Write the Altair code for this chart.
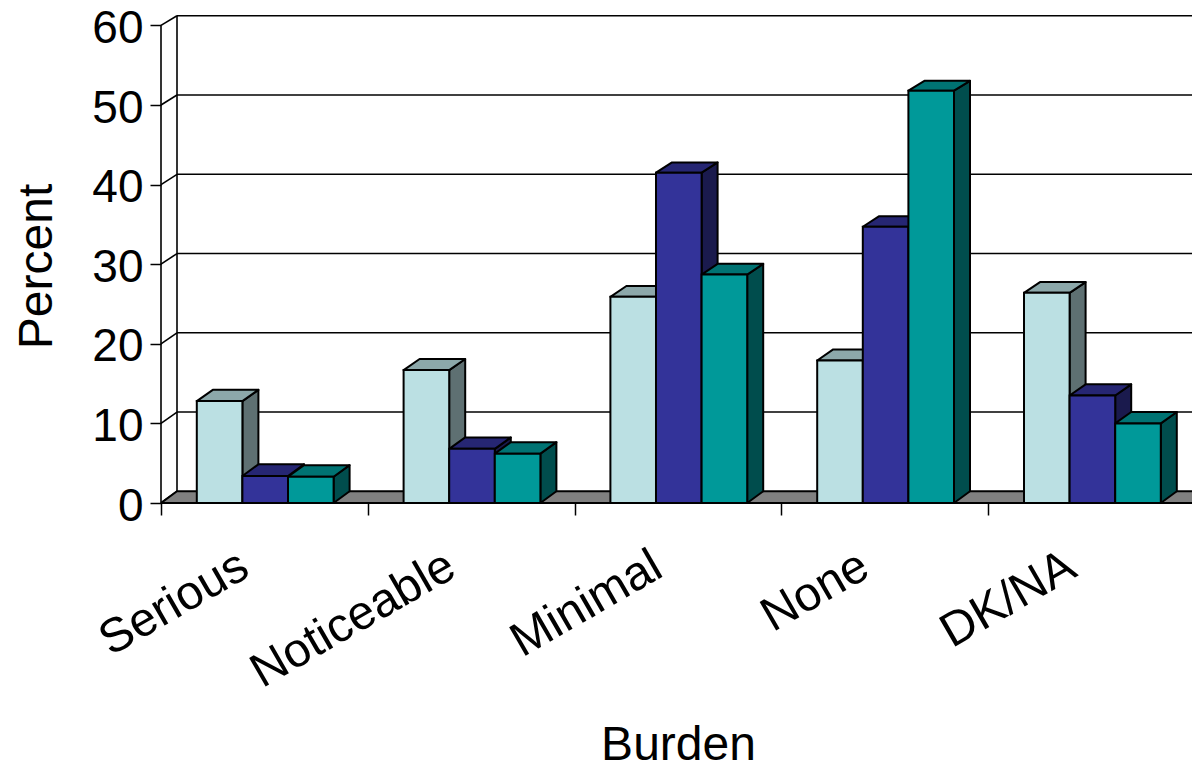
import altair as alt
import pandas as pd

categories = ["Serious", "Noticeable", "Minimal", "None", "DK/NA"]
series_a = [12.8, 16.7, 25.9, 17.9, 26.4]
series_b = [3.4, 6.8, 41.5, 34.7, 13.5]
series_c = [3.3, 6.2, 28.7, 51.8, 10.0]
y_ticks = [0, 10, 20, 30, 40, 50, 60]
x_ticks = [0, 1, 2, 3, 4, 5]
front_colors = ["#BBE0E3", "#333399", "#009999"]
top_colors = ["#8CA8AA", "#262673", "#007373"]
side_colors = ["#5E7072", "#1A1A4D", "#004D4D"]

FONT = "Liberation Sans"
PLOT_W = 1031
XMAX = PLOT_W / 206.8
PX_Y = 7.96
YMAX = 493 / PX_Y
DX = 16 / 206.8
BAR_W = 45.6 / 206.8
GAP = 35.8 / 206.8


def back(v):
    return v * 0.9956 + 1.47


fronts, tops, sides = [], [], []
for s, vals in enumerate([series_a, series_b, series_c]):
    for c, v in enumerate(vals):
        x0 = c + GAP + s * BAR_W
        x1 = x0 + BAR_W
        bid = f"{s}-{c}"
        fronts.append(dict(x=x0, x2=x1, y=0, y2=v, fill=front_colors[s]))
        for px, lo, hi in [(x0, v, v), (x0 + DX, v, back(v)), (x1, v, back(v)), (x1 + DX, back(v), back(v))]:
            tops.append(dict(bar=bid, x=px, y=lo, y2=hi, fill=top_colors[s]))
        for px, lo, hi in [(x1, 0, v), (x1 + DX, back(0), back(v))]:
            sides.append(dict(bar=bid, x=px, y=lo, y2=hi, fill=side_colors[s]))

x_scale = alt.Scale(domain=[0, XMAX], nice=False, zero=False)
y_scale = alt.Scale(domain=[0, YMAX], nice=False, zero=False)
x_axis = alt.Axis(values=x_ticks, labels=False, grid=False, domain=False, tickSize=12,
                  tickColor="black", tickWidth=1.5, title="Burden", titleFont=FONT,
                  titleFontSize=48, titleFontWeight="normal", titleColor="black",
                  titleX=517, titleY=267, titleBaseline="line-bottom")
y_axis = alt.Axis(values=y_ticks, grid=False, domain=False, tickSize=11, tickColor="black",
                  tickWidth=1.5, labelFont=FONT, labelFontSize=46, labelColor="black",
                  labelPadding=7, labelOffset=3, title="Percent", titleFont=FONT, titleFontSize=48,
                  titleFontWeight="normal", titleColor="black", titleAngle=270,
                  titleX=-100, titleY=256)
X = alt.X("x:Q", scale=x_scale, axis=x_axis)
Y = alt.Y("y:Q", scale=y_scale, axis=y_axis, stack=None)
F = alt.Color("fill:N", scale=None)
LW = 1.6
BW = 2

grid = pd.DataFrame([dict(x=DX, x2=XMAX, y=back(t)) for t in y_ticks if t > 0])
diag = pd.DataFrame([r for t in y_ticks for r in
                     (dict(t=t, x=0, y=t), dict(t=t, x=DX, y=back(t)))])
wall = alt.Chart(grid).mark_rule(color="black", strokeWidth=LW).encode(x=X, x2="x2:Q", y=Y)
diag_l = alt.Chart(diag).mark_line(color="black", strokeWidth=LW).encode(x=X, y=Y, detail="t:N")
left_front = alt.Chart(pd.DataFrame([dict(x=0, y=0, y2=60)])).mark_rule(color="black", strokeWidth=LW).encode(x=X, y=Y, y2="y2:Q")
left_back = alt.Chart(pd.DataFrame([dict(x=DX, y=back(0), y2=back(60))])).mark_rule(color="black", strokeWidth=LW).encode(x=X, y=Y, y2="y2:Q")

floor = pd.DataFrame([dict(x=0, y=0, y2=0), dict(x=DX, y=0, y2=back(0)), dict(x=XMAX + 0.02, y=0, y2=back(0))])
floor_m = alt.Chart(floor).mark_area(color="#808080", stroke="black", strokeWidth=BW, clip=True).encode(x=X, y=Y, y2="y2:Q")
base_line = alt.Chart(pd.DataFrame([dict(x=0, x2=XMAX, y=0)])).mark_rule(color="black", strokeWidth=2).encode(x=X, x2="x2:Q", y=Y)


def poly(rows):
    return alt.Chart(pd.DataFrame(rows)).mark_area(stroke="black", strokeWidth=BW, strokeJoin="round").encode(
        x=X, y=Y, y2="y2:Q", color=F, detail="bar:N")


front_m = alt.Chart(pd.DataFrame(fronts)).mark_rect(stroke="black", strokeWidth=BW).encode(
    x=X, x2="x2:Q", y=Y, y2="y2:Q", color=F)

labels = alt.Chart(pd.DataFrame([dict(x=i + 0.405, label=c) for i, c in enumerate(categories)])).mark_text(
    font=FONT, fontSize=48, color="black", angle=330, align="right", baseline="middle"
).encode(x=X, y=alt.value(553), text="label:N")

chart = alt.layer(
    wall, diag_l, left_back, floor_m, poly(sides), poly(tops), front_m, base_line, left_front, labels
).properties(
    width=PLOT_W, height=493,
    padding={"left": 153, "top": 2, "right": 0, "bottom": 264},
    autosize=alt.AutoSizeParams(type="none"),
).configure_view(stroke=None)

chart.save("out.html", embed_options={"renderer": "svg", "actions": False})
